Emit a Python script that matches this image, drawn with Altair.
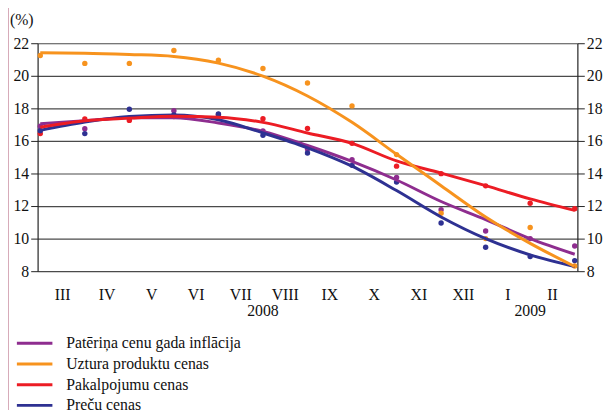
import altair as alt
import pandas as pd

months = ["III", "IV", "V", "VI", "VII", "VIII", "IX", "X", "XI", "XII", "I", "II"]
years = ["2008", "2009"]
year_pos = [5, 11]
y_ticks = [8, 10, 12, 14, 16, 18, 20, 22]
series_names = ["Patēriņa cenu gada inflācija", "Uztura produktu cenas",
                "Pakalpojumu cenas", "Preču cenas"]
colors = ["#8E2D8F", "#F7931E", "#EC1C24", "#2E3192"]

# observed monthly values (dots)
cpi = [16.9, 16.75, 17.4, 17.85, 17.5, 16.62, 15.5, 14.85, 13.75, 11.77, 10.47, 10.0, 9.55]
food = [21.25, 20.76, 20.76, 21.55, 20.96, 20.45, 19.56, 18.15, 15.16, 11.56, 10.0, 10.68, 8.32]
services = [16.45, 17.35, 17.26, 17.5, 17.63, 17.36, 16.76, 15.85, 14.45, 13.99, 13.24, 12.17, 11.83]
goods = [16.63, 16.45, 17.95, 17.6, 17.65, 16.35, 15.26, 14.5, 13.47, 10.96, 9.47, 8.9, 8.65]

# smoothed trend curves
cpi_trend = [17.06, 17.24, 17.42, 17.42, 17.1, 16.59, 15.72, 14.74, 13.6, 12.28, 11.17, 10.0, 9.04]
food_trend = [21.41, 21.39, 21.31, 21.19, 20.78, 19.98, 18.76, 17.14, 15.18, 13.25, 11.33, 9.71, 8.29]
services_trend = [16.84, 17.24, 17.4, 17.52, 17.46, 17.14, 16.49, 15.85, 14.77, 14.02, 13.25, 12.44, 11.73]
goods_trend = [16.65, 17.16, 17.5, 17.6, 17.3, 16.49, 15.58, 14.45, 12.95, 11.33, 10.0, 9.0, 8.29]

rows = []
for name, vals in zip(series_names, [cpi, food, services, goods]):
    for i, v in enumerate(vals):
        rows.append({"i": i, "value": v, "series": name})
df = pd.DataFrame(rows)

trows = []
for name, vals in zip(series_names, [cpi_trend, food_trend, services_trend, goods_trend]):
    for i, v in enumerate(vals):
        trows.append({"i": i, "value": v, "series": name})
tdf = pd.DataFrame(trows)

mdf = pd.DataFrame({"i": [k + 0.5 for k in range(len(months))], "m": months})
ydf = pd.DataFrame({"i": year_pos, "y": years})

FONT = "Liberation Serif"
FS = 16
W, H = 547, 231

xs = alt.Scale(domain=[-0.06, 12.06], nice=False, zero=False)
ysc = alt.Scale(domain=[8, 22], nice=False, zero=False)
cscale = alt.Scale(domain=series_names, range=colors)
color = alt.Color("series:N", scale=cscale,
                  legend=alt.Legend(title=None, orient="none", legendX=-11, legendY=296,
                                    symbolType="M-3.6,0H3.6", symbolSize=100, symbolStrokeWidth=3,
                                    symbolFillColor="transparent",
                                    labelFont=FONT, labelFontSize=FS, labelColor="#111",
                                    labelOffset=24, rowPadding=5, labelLimit=400))

xaxis = alt.Axis(values=list(range(13)), labels=False, title=None, grid=True,
                 gridColor="#8a8a8a", gridWidth=1.4, tickColor="#222", tickSize=5,
                 domainColor="#222", domainWidth=1.2)
yaxis_left = alt.Axis(values=y_ticks, title=None, grid=True, gridColor="#4a4a4a", gridWidth=1.2,
                      tickColor="#222", tickSize=7, labelFont=FONT, labelFontSize=FS,
                      labelColor="#111", labelPadding=2, domainColor="#222", domainWidth=1.2)
yaxis_right = alt.Axis(values=y_ticks, title=None, grid=False, orient="right",
                       tickColor="#222", tickSize=7, labelFont=FONT, labelFontSize=FS,
                       labelColor="#111", labelPadding=2, domainColor="#222", domainWidth=1.2)

dots = alt.Chart(df).mark_circle(size=30, opacity=1).encode(
    x=alt.X("i:Q", scale=xs, axis=xaxis),
    y=alt.Y("value:Q", scale=ysc, axis=yaxis_left),
    color=color,
)

right_axis = alt.Chart(df).mark_point(opacity=0).encode(
    x=alt.X("i:Q", scale=xs, axis=None),
    y=alt.Y("value:Q", scale=ysc, axis=yaxis_right),
)


def trend(name):
    return alt.Chart(tdf).transform_filter(alt.datum.series == name).mark_line(
        strokeWidth=3, interpolate="monotone"
    ).encode(
        x=alt.X("i:Q", scale=xs, axis=None),
        y=alt.Y("value:Q", scale=ysc, axis=None),
        color=color,
    )


lines = [trend(series_names[0]), trend(series_names[3]), trend(series_names[2]), trend(series_names[1])]

month_text = alt.Chart(mdf).mark_text(font=FONT, fontSize=FS, color="#111", baseline="middle").encode(
    x=alt.X("i:Q", scale=xs, axis=None), y=alt.value(H + 24), text="m:N")
year_text = alt.Chart(ydf).mark_text(font=FONT, fontSize=FS, color="#111", baseline="middle").encode(
    x=alt.X("i:Q", scale=xs, axis=None), y=alt.value(H + 40), text="y:N")

pct = alt.Chart(pd.DataFrame({"t": ["(%)"]})).mark_text(
    font=FONT, fontSize=FS, color="#111", align="left", baseline="middle").encode(
    x=alt.value(-28), y=alt.value(-23), text="t:N")

border = alt.Chart(pd.DataFrame({"t": [0]})).mark_rule(color="#c98ea0", strokeWidth=1.5).encode(
    x=alt.value(-30), y=alt.value(-41), y2=alt.value(H + 150))

chart = alt.layer(dots, right_axis, *lines, month_text, year_text, pct, border).resolve_axis(
    y="independent"
).properties(
    width=W, height=H,
    autosize=alt.AutoSizeParams(type="none"),
    padding={"left": 30, "top": 33, "right": 29, "bottom": 140},
).configure_view(stroke=None)

chart.save("out.html", embed_options={"renderer": "svg", "actions": False})
